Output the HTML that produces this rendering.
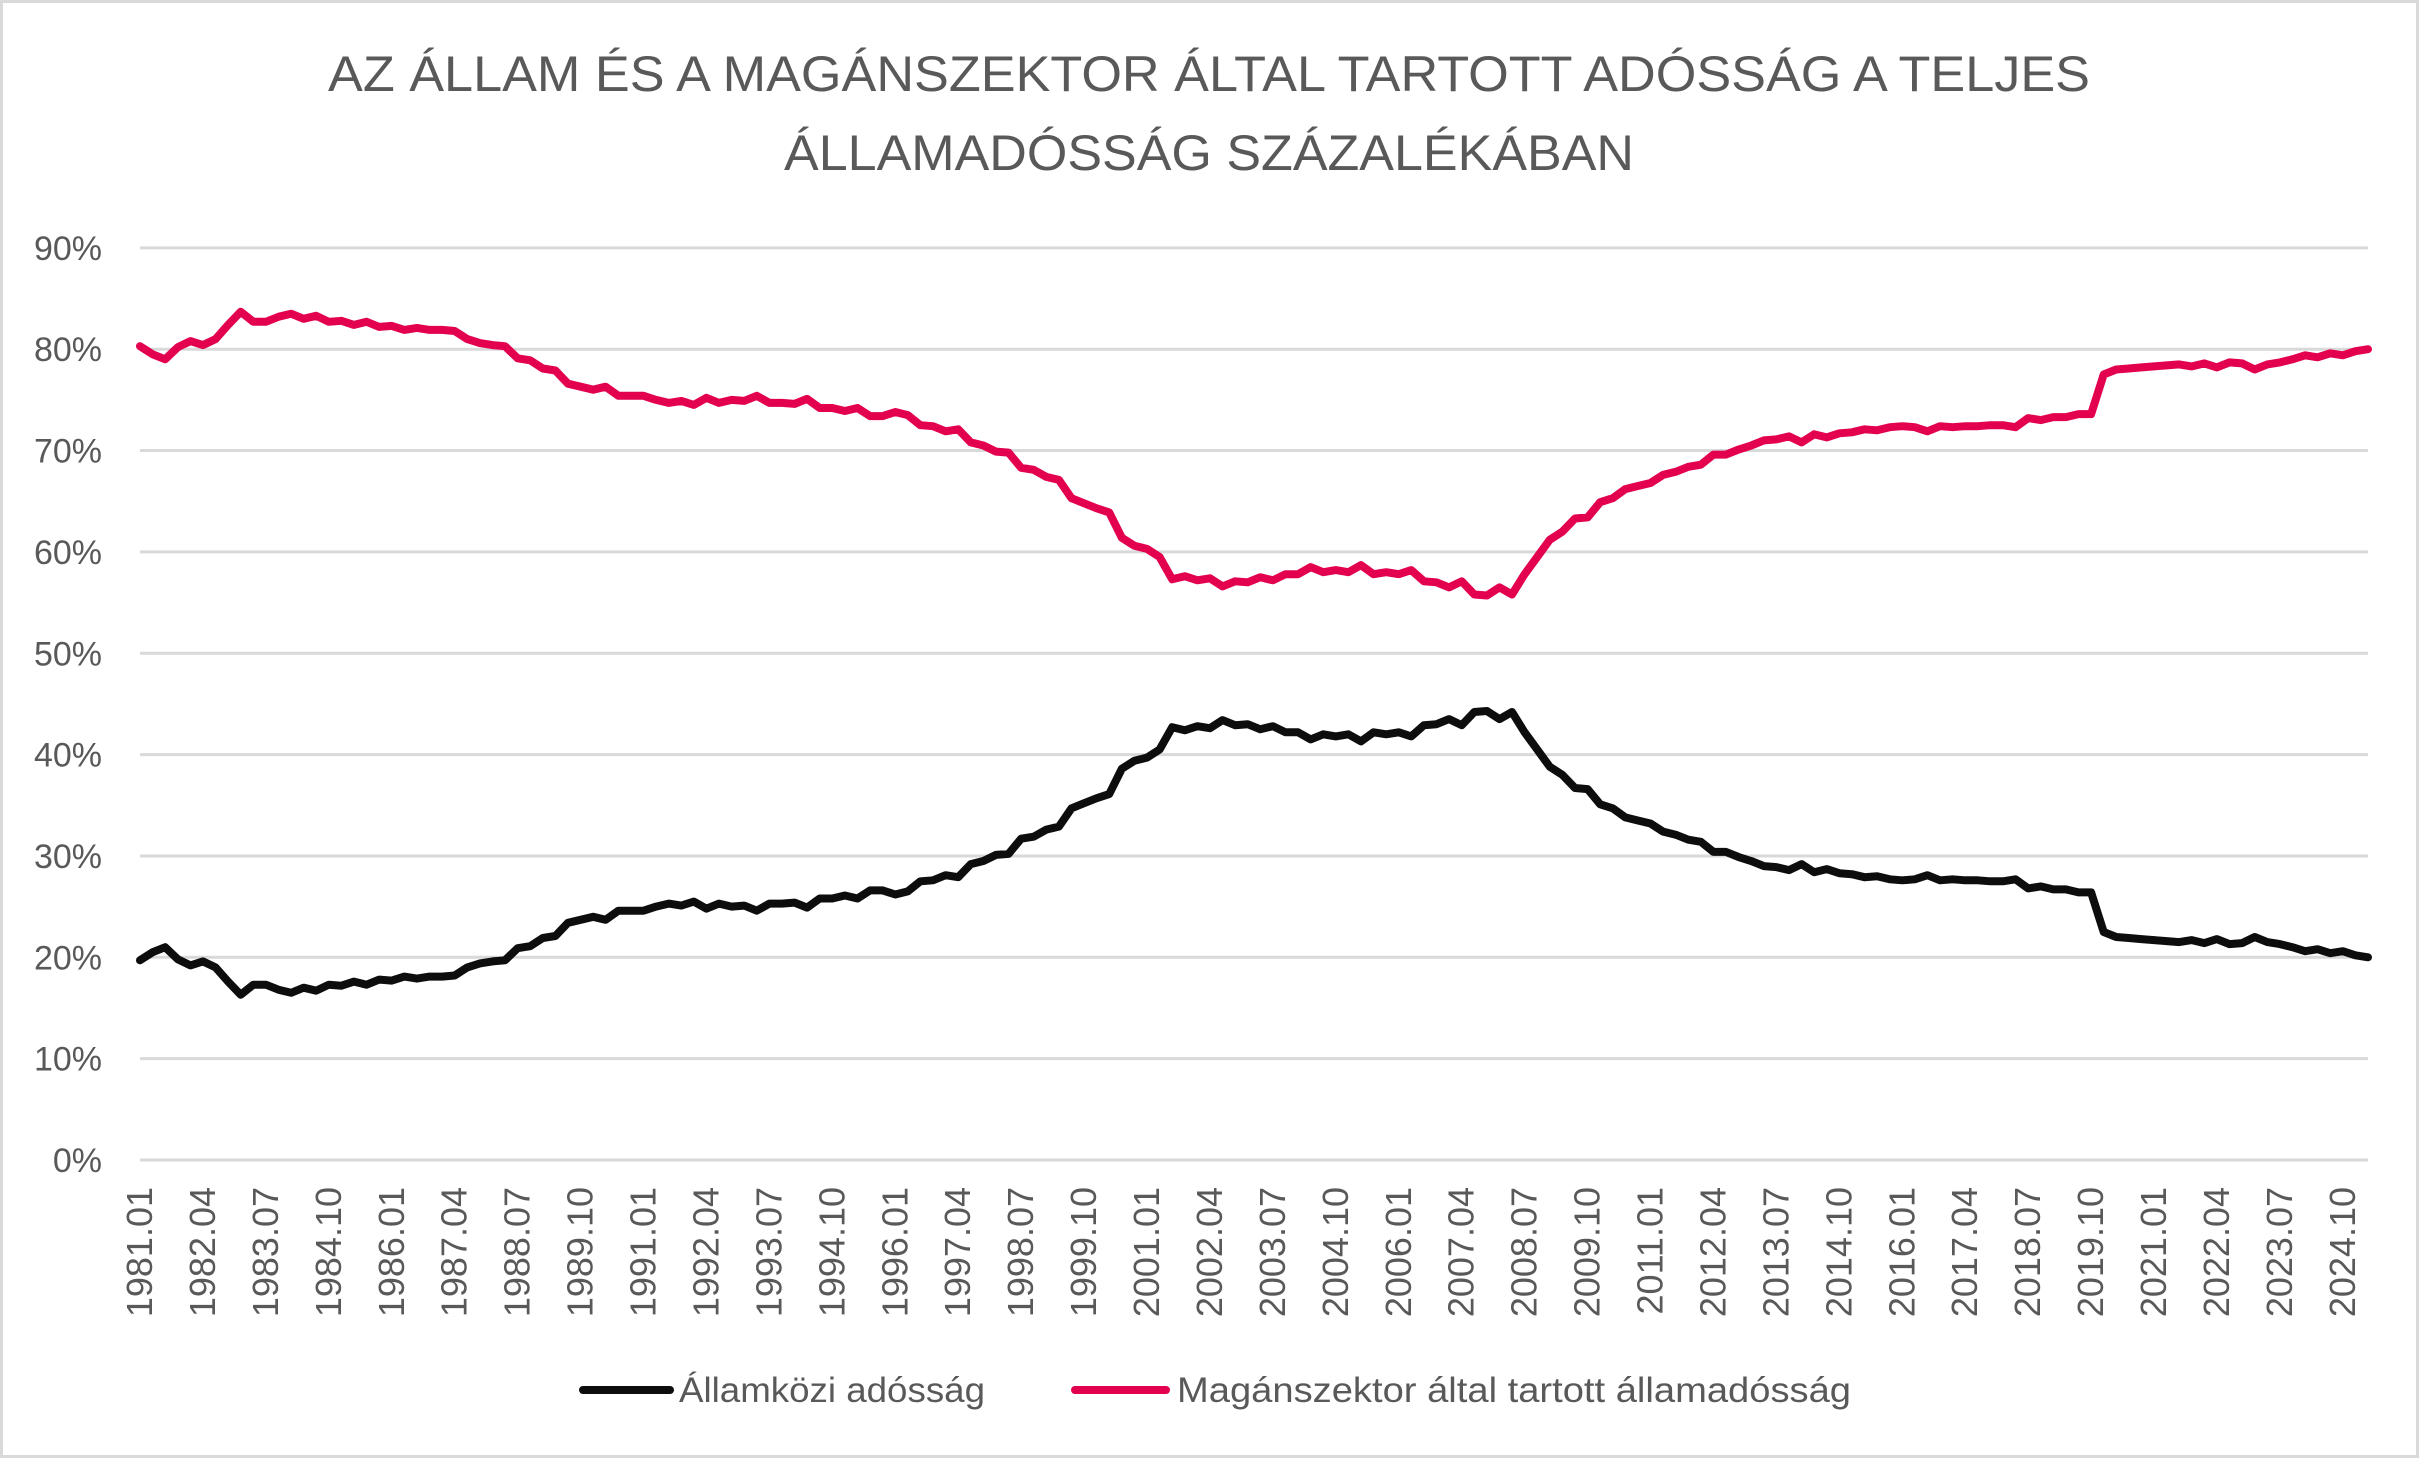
<!DOCTYPE html>
<html><head><meta charset="utf-8"><style>
html,body{margin:0;padding:0;background:#fff}
svg{display:block}
text{font-family:"Liberation Sans",sans-serif;fill:#595959}
</style></head><body>
<svg id="s" width="2419" height="1458" viewBox="0 0 2419 1458" xmlns="http://www.w3.org/2000/svg">
<rect x="1.5" y="1.5" width="2416" height="1455" fill="#fff" stroke="#d9d9d9" stroke-width="3"/>
<text x="1209" y="91" font-size="50" text-anchor="middle" textLength="1762" lengthAdjust="spacingAndGlyphs">AZ ÁLLAM ÉS A MAGÁNSZEKTOR ÁLTAL TARTOTT ADÓSSÁG A TELJES</text>
<text x="1209" y="170" font-size="50" text-anchor="middle" textLength="850" lengthAdjust="spacingAndGlyphs">ÁLLAMADÓSSÁG SZÁZALÉKÁBAN</text>
<g id="grid"></g>
<g id="ylab"></g>
<g id="xlab"></g>
<path id="pb" fill="none" stroke="#0d0d0d" stroke-width="8" stroke-linejoin="round" stroke-linecap="round"/>
<path id="pp" fill="none" stroke="#e3004f" stroke-width="8" stroke-linejoin="round" stroke-linecap="round"/>
<line x1="583" y1="1390" x2="670" y2="1390" stroke="#0d0d0d" stroke-width="8" stroke-linecap="round"/>
<text x="679" y="1402" font-size="35" textLength="306" lengthAdjust="spacingAndGlyphs">Államközi adósság</text>
<line x1="1075" y1="1390" x2="1166" y2="1390" stroke="#e3004f" stroke-width="8" stroke-linecap="round"/>
<text x="1177" y="1402" font-size="35" textLength="674" lengthAdjust="spacingAndGlyphs">Magánszektor által tartott államadósság</text>
</svg>
<script>
var NS="http://www.w3.org/2000/svg";
function el(n,a,t){var e=document.createElementNS(NS,n);for(var k in a)e.setAttribute(k,a[k]);if(t!=null)e.textContent=t;return e;}
var X0=140,X1=2368,Y0=1160,PER=101.35;
function Y(v){return Y0-v*PER/10;}
var g=document.getElementById('grid'),yl=document.getElementById('ylab'),xl=document.getElementById('xlab');
for(var i=0;i<=9;i++){var y=Y(i*10);
g.appendChild(el('line',{x1:X0,x2:X1,y1:y,y2:y,stroke:'#d9d9d9','stroke-width':3}));
yl.appendChild(el('text',{x:102,y:y+12,'font-size':34,'text-anchor':'end'},(i*10)+'%'));}
var N=178,dx=(X1-X0)/(N-1);
var mm=['01','04','07','10'];
for(var q=0;q<=175;q+=5){var x=X0+q*dx,yr=1981+Math.floor(q/4),m=mm[q%4];
xl.appendChild(el('text',{x:0,y:0,'font-size':36,'text-anchor':'end',transform:'translate('+(x+12)+',1187) rotate(-90)'},yr+'.'+m));}
var v=[19.7,20.5,21,19.8,19.2,19.6,19,17.6,16.3,17.3,17.3,16.8,16.5,17,16.7,17.3,17.2,17.6,17.3,17.8,17.7,18.1,17.9,18.1,18.1,18.2,19,19.4,19.6,19.7,20.9,21.1,21.9,22.1,23.4,23.7,24,23.7,24.6,24.6,24.6,25,25.3,25.1,25.5,24.8,25.3,25,25.1,24.6,25.3,25.3,25.4,24.9,25.8,25.8,26.1,25.8,26.6,26.6,26.2,26.5,27.5,27.6,28.1,27.9,29.2,29.5,30.1,30.2,31.7,31.9,32.6,32.9,34.7,35.2,35.7,36.1,38.6,39.4,39.7,40.5,42.7,42.4,42.8,42.6,43.4,42.9,43,42.5,42.8,42.2,42.2,41.5,42,41.8,42,41.3,42.2,42,42.2,41.8,42.9,43,43.5,42.9,44.2,43.9,44.3,43.5,44.2,42.2,40.5,38.8,38,36.7,36.6,35.1,34.7,33.8,33.5,33.2,32.4,32.1,31.6,31.4,30.4,30.4,29.9,29.5,29,28.9,28.6,29.2,28.4,28.7,28.3,28.2,27.9,28,27.7,27.6,27.7,28.1,27.6,27.7,27.6,27.6,27.5,27.5,27.7,26.8,27,26.7,26.7,26.4,26.4,25.9,25.9,22.5,22,21.9,21.8,21.7,21.6,21.5,21.7,21.4,21.8,21.4,22,21.5,21.3,21,20.6,20.8,20.4,20.6,20.2,20];
v.splice(107,1); v.splice(156,2);
var fill=[21.6,21.9,21.3];
while(v.length<N){v.splice(166,0,fill.pop());}
var b='',p='';
v.slice(0,N).forEach(function(d,i){var x=(X0+i*dx).toFixed(1);b+=(i?'L':'M')+x+' '+Y(d).toFixed(1);p+=(i?'L':'M')+x+' '+Y(100-d).toFixed(1);});
document.getElementById('pb').setAttribute('d',b);
document.getElementById('pp').setAttribute('d',p);
</script>
</body></html>
